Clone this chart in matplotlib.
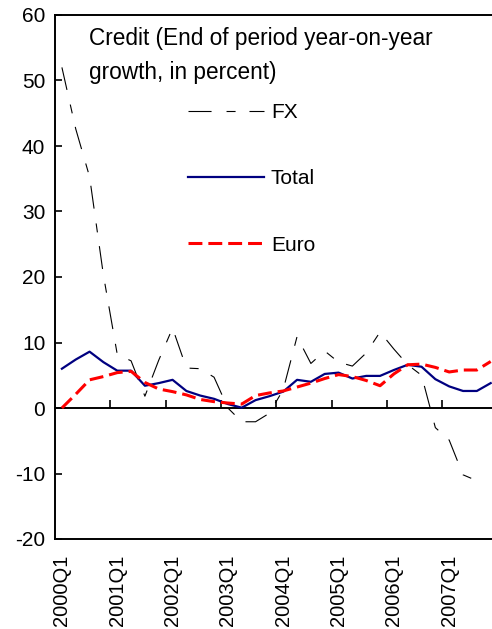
import matplotlib
matplotlib.use('Agg')
import matplotlib.pyplot as plt
import numpy as np

# ---- data ----
years = list(range(2000, 2008))
quarters = [f"{y}Q{q}" for y in years for q in range(1, 5)]

fx = [52.0, 42.6, 35.3, 20.3, 8.2, 7.2, 1.8, 7.3, 12.2, 6.1, 6.0, 4.7,
      0.0, -2.1, -2.1, -0.8, 2.8, 10.9, 6.8, 8.7, 7.0, 6.4, 8.4, 11.6,
      9.0, 6.6, 5.0, -3.0, -4.9, -10.2, -11.1, np.nan]
total = [6.0, 7.4, 8.6, 7.0, 5.7, 5.7, 3.4, 3.8, 4.3, 2.6, 1.9, 1.4,
         0.6, 0.05, 1.2, 1.8, 2.5, 4.3, 4.0, 5.2, 5.4, 4.5, 4.9, 4.9,
         5.8, 6.6, 6.3, 4.4, 3.3, 2.6, 2.6, 3.8]
euro = [0.0, 2.1, 4.3, 4.8, 5.4, 5.6, 3.9, 2.9, 2.5, 2.0, 1.3, 0.97,
        0.76, 0.6, 1.9, 2.3, 2.6, 3.2, 3.8, 4.5, 5.1, 4.8, 4.2, 3.4,
        5.2, 6.6, 6.7, 6.2, 5.5, 5.8, 5.8, 7.1]
yticks = list(range(-20, 61, 10))
title = "Credit (End of period year-on-year\ngrowth, in percent)"

plt.rcParams['font.family'] = ['Liberation Sans', 'DejaVu Sans']
plt.rcParams['lines.scale_dashes'] = False
plt.rcParams['axes.unicode_minus'] = False

W, H = 492, 629
fig = plt.figure(figsize=(W / 100, H / 100), dpi=100)
ax = fig.add_axes([55 / W, 1 - 539 / H, 442.6 / W, 524 / H])

x = np.arange(len(quarters))
ax.plot(x, fx, color='black', lw=0.8, dashes=(16.6, 10.8, 6.5, 10), label='FX')
ax.plot(x, total, color='#000080', lw=1.6, label='Total')
ax.plot(x, euro, color='#FF0000', lw=2.2, dashes=(10, 4.3), label='Euro')

ax.set_xlim(-0.5, len(quarters) - 0.5)
ax.set_ylim(-20, 60)
ax.set_yticks(yticks)
ax.tick_params(axis='y', direction='in', length=5, width=1.2, labelsize=15, pad=7)
ax.set_xticks(x[::4])
ax.set_xticklabels(quarters[::4], rotation=90)
ax.tick_params(axis='x', length=0, pad=11, labelsize=14.5)
for s in ax.spines.values():
    s.set_linewidth(1.4)

sec = ax.secondary_xaxis(0.25)
sec.set_xticks(np.arange(3.5, len(quarters) - 1, 4))
sec.set_xticklabels([])
sec.tick_params(direction='in', length=6, width=1.2)
for s in sec.spines.values():
    s.set_linewidth(1.4)

fig.text(89 / W, 1 - 27 / H, title, ha='left', va='top', fontsize=16.3,
         linespacing=1.6)

ax.legend(loc='upper left', bbox_to_anchor=(188 / W, 1 - 103 / H),
          bbox_transform=fig.transFigure, frameon=False, fontsize=15,
          handlelength=3.65, handletextpad=0.33, labelspacing=2.27,
          borderpad=0, borderaxespad=0)

fig.savefig('out.png', dpi=100)
